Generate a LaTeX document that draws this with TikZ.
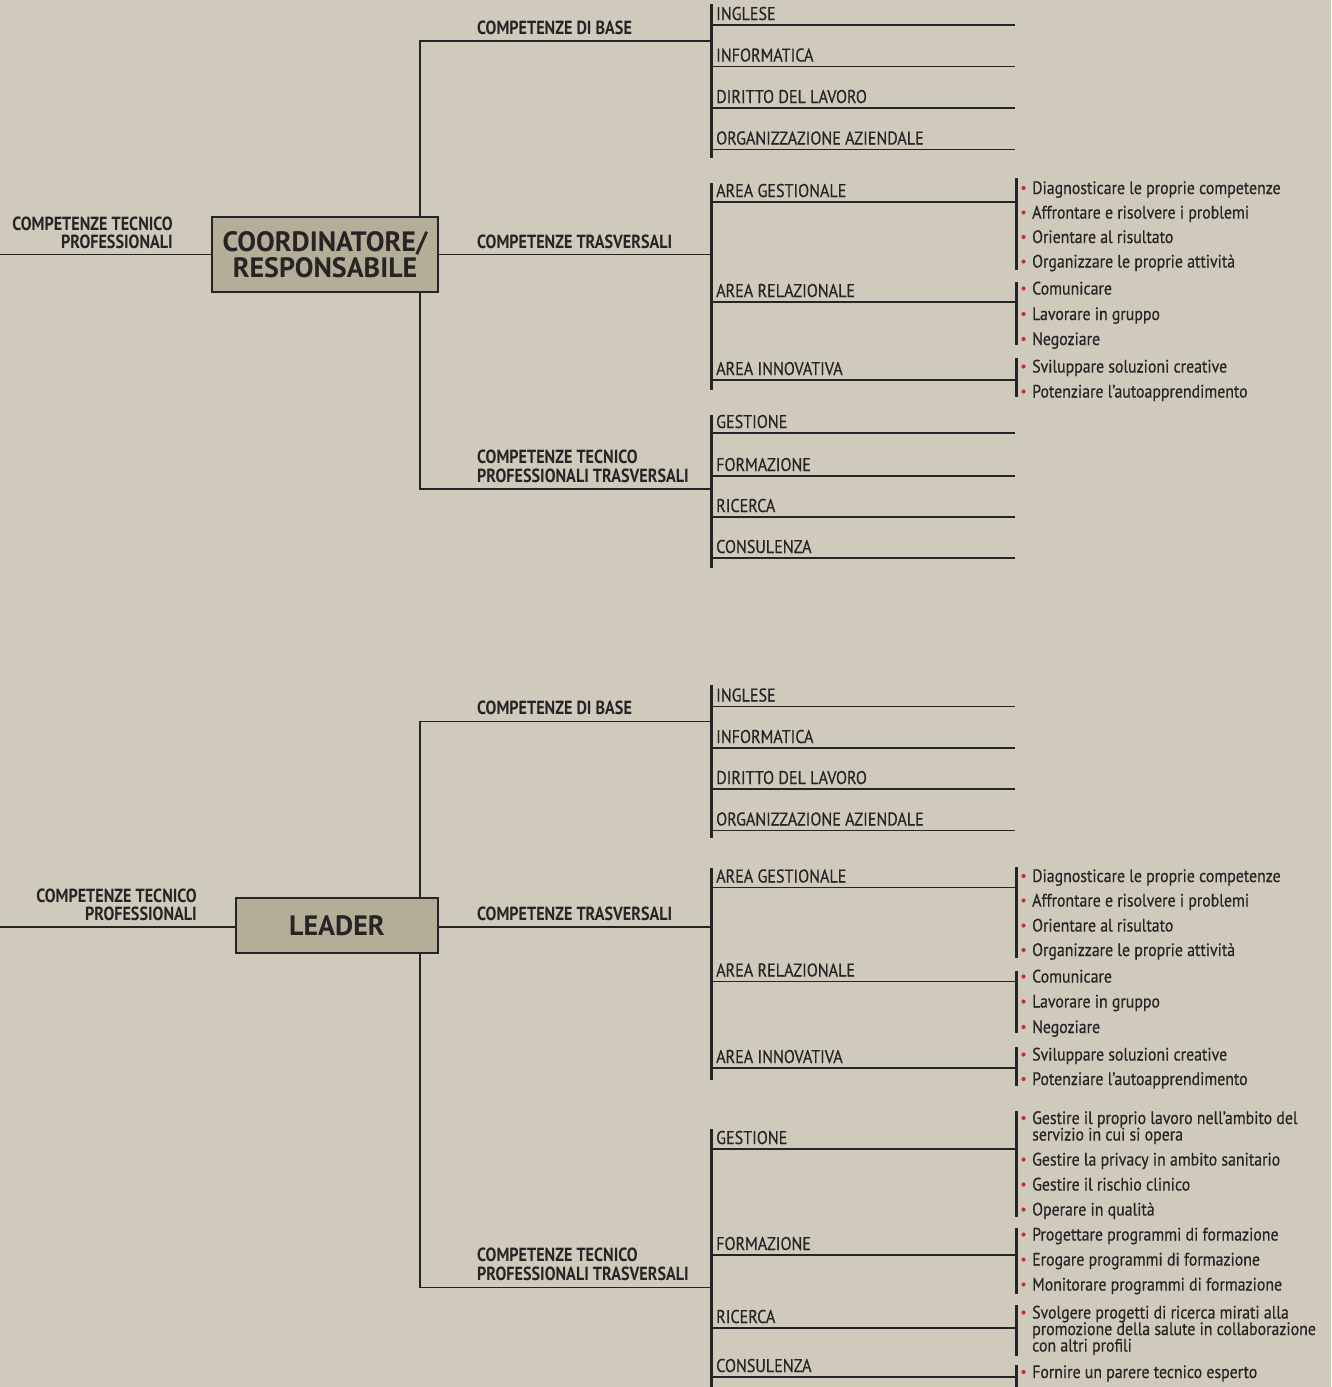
\documentclass[tikz,border=0pt]{standalone}
\usepackage{fontspec}
\setmainfont{PT Sans}[FakeStretch=0.85]
\newfontfamily\itemfont{PT Sans}[FakeStretch=0.87,FakeBold=0.4]
\newfontfamily\bulfont{PT Sans}[FakeStretch=0.88,FakeBold=0.4]
\newfontfamily\headfont{PT Sans}[FakeStretch=0.85]
\newfontfamily\rolefont{PT Sans}[FakeStretch=1.0]
\definecolor{paper}{HTML}{CFCABB}
\definecolor{boxfill}{HTML}{B4AD98}
\definecolor{ink}{HTML}{262424}
\definecolor{dotred}{HTML}{D12A33}
\tikzset{
  rule/.style={draw=ink, line width=1.7pt},
  bar/.style={draw=ink, line width=3pt},
  itemtxt/.style={anchor=base west, inner sep=0pt, text=ink, font=\itemfont\fontsize{18.5}{20}\selectfont},
  headtxt/.style={anchor=south west, inner sep=0pt, text=ink, align=left, font=\headfont\bfseries\fontsize{19}{19}\selectfont},
  sidetxt/.style={anchor=south east, inner sep=0pt, text=ink, align=right, font=\headfont\bfseries\fontsize{19}{18}\selectfont},
  rolebox/.style={draw=ink, fill=boxfill, line width=1.5pt, inner sep=0pt, align=center, text=ink, font=\rolefont\bfseries\fontsize{28}{26}\selectfont},
  bultxt/.style={anchor=base west, inner sep=0pt, text=ink, font=\bulfont\fontsize{18}{15}\selectfont},
  bulldot/.style={circle, fill=dotred, inner sep=0pt, minimum size=4.2pt},
}
% one competence row: line from the group bar plus its caption
\newcommand\comprow[3]{%
  \coordinate (#1-l) at (711.5,#2);
  \coordinate (#1-r) at (1015,#2);
  \draw[rule] (#1-l) -- (#1-r);
  \node[itemtxt] (#1) at (716,#2-5) {#3};}
% one bullet entry (red dot + text), and a continuation line
\newcommand\bulrow[3]{%
  \node[bulldot] (#1-d) at (1023.5,#2-6) {};
  \node[bultxt] (#1) at (1032,#2) {#3};}
\newcommand\bulcont[3]{\node[bultxt] (#1) at (1032,#2) {#3};}
% vertical bar grouping bullet entries
\newcommand\bulbar[3]{%
  \coordinate (#1-t) at (1016,#2);
  \coordinate (#1-b) at (1016,#3);
  \draw[bar] (#1-t) -- (#1-b);}
% vertical bar grouping competence rows
\newcommand\groupbar[3]{%
  \coordinate (#1-t) at (711.5,#2);
  \coordinate (#1-b) at (711.5,#3);
  \draw[bar] (#1-t) -- (#1-b);}

\begin{document}
\begin{tikzpicture}[x=1pt,y=-1pt]
\fill[paper] (0,0) rectangle (1331,1387);
\useasboundingbox (0,0) rectangle (1331,1387);

%================ COORDINATORE / RESPONSABILE ================
\coordinate (tspineA) at (420,41);
\coordinate (tspineC) at (420,489);
\coordinate (tjoinA) at (711.5,41);
\coordinate (tjoinC) at (711.5,489);
\coordinate (tstart) at (0,254.5);

\draw[rule] (420,230) -- (tspineA) -- (tjoinA);
\draw[rule] (420,280) -- (tspineC) -- (tjoinC);

\node[rolebox, minimum width=226pt, minimum height=75pt] (coord) at (325,254.5) {COORDINATORE/\\RESPONSABILE};
\node[sidetxt] (tside) at (173,248.5) {COMPETENZE TECNICO\\PROFESSIONALI};
\draw[rule] (tstart) -- (coord.west);

\groupbar{tA}{4}{158}
\groupbar{tB}{183}{390}
\groupbar{tC}{415}{568}
\draw[rule] (coord.east) -- (coord.east -| tB-t);

\node[headtxt] (tHA) at (477,35) {COMPETENZE DI BASE};
\node[headtxt] (tHB) at (477,249) {COMPETENZE TRASVERSALI};
\node[headtxt] (tHC) at (477,482.5) {COMPETENZE TECNICO\\PROFESSIONALI TRASVERSALI};

\comprow{tA1}{25}{INGLESE}
\comprow{tA2}{66.5}{INFORMATICA}
\comprow{tA3}{108}{DIRITTO DEL LAVORO}
\comprow{tA4}{149.5}{ORGANIZZAZIONE AZIENDALE}

\comprow{tB1}{202}{AREA GESTIONALE}
\comprow{tB2}{302}{AREA RELAZIONALE}
\comprow{tB3}{380}{AREA INNOVATIVA}

\comprow{tC1}{433}{GESTIONE}
\comprow{tC2}{476}{FORMAZIONE}
\comprow{tC3}{517}{RICERCA}
\comprow{tC4}{558}{CONSULENZA}

\bulbar{tg}{178}{270}
\bulrow{tg1}{194}{Diagnosticare le proprie competenze}
\bulrow{tg2}{218.5}{Affrontare e risolvere i problemi}
\bulrow{tg3}{243}{Orientare al risultato}
\bulrow{tg4}{267.5}{Organizzare le proprie attività}
\bulbar{tr}{282}{345}
\bulrow{tr1}{294.5}{Comunicare}
\bulrow{tr2}{320}{Lavorare in gruppo}
\bulrow{tr3}{345}{Negoziare}
\bulbar{ti}{358}{397}
\bulrow{ti1}{372.5}{Sviluppare soluzioni creative}
\bulrow{ti2}{397.5}{Potenziare l’autoapprendimento}

%================ LEADER ================
\coordinate (bspineA) at (420,721.5);
\coordinate (bspineC) at (420,1287.5);
\coordinate (bjoinA) at (711.5,721.5);
\coordinate (bjoinC) at (711.5,1287.5);
\coordinate (bstart) at (0,927);

\draw[rule] (420,910) -- (bspineA) -- (bjoinA);
\draw[rule] (420,940) -- (bspineC) -- (bjoinC);

\node[rolebox, minimum width=202pt, minimum height=55pt] (lead) at (337,925.5) {LEADER};
\node[sidetxt] (bside) at (197,921) {COMPETENZE TECNICO\\PROFESSIONALI};
\draw[rule] (bstart) -- (bstart -| lead.west);

\groupbar{bA}{685}{838}
\groupbar{bB}{868}{1080}
\groupbar{bC}{1129}{1387}
\draw[rule] (lead.east |- bstart) -- (bstart -| bB-t);

\node[headtxt] (bHA) at (477,715) {COMPETENZE DI BASE};
\node[headtxt] (bHB) at (477,921) {COMPETENZE TRASVERSALI};
\node[headtxt] (bHC) at (477,1281) {COMPETENZE TECNICO\\PROFESSIONALI TRASVERSALI};

\comprow{bA1}{706.5}{INGLESE}
\comprow{bA2}{748}{INFORMATICA}
\comprow{bA3}{789}{DIRITTO DEL LAVORO}
\comprow{bA4}{830.5}{ORGANIZZAZIONE AZIENDALE}

\comprow{bB1}{887.5}{AREA GESTIONALE}
\comprow{bB2}{981.5}{AREA RELAZIONALE}
\comprow{bB3}{1068}{AREA INNOVATIVA}

\comprow{bC1}{1149}{GESTIONE}
\comprow{bC2}{1255}{FORMAZIONE}
\comprow{bC3}{1328}{RICERCA}
\comprow{bC4}{1377}{CONSULENZA}

\bulbar{bg}{867}{958}
\bulrow{bg1}{882}{Diagnosticare le proprie competenze}
\bulrow{bg2}{906.5}{Affrontare e risolvere i problemi}
\bulrow{bg3}{931.5}{Orientare al risultato}
\bulrow{bg4}{956}{Organizzare le proprie attività}
\bulbar{br}{971}{1033}
\bulrow{br1}{982.5}{Comunicare}
\bulrow{br2}{1007.5}{Lavorare in gruppo}
\bulrow{br3}{1033}{Negoziare}
\bulbar{bi}{1047}{1086}
\bulrow{bi1}{1060.5}{Sviluppare soluzioni creative}
\bulrow{bi2}{1085}{Potenziare l’autoapprendimento}

\bulbar{bcg}{1111}{1217}
\bulrow{bcg1}{1124}{Gestire il proprio lavoro nell’ambito del}
\bulcont{bcg1b}{1140.5}{servizio in cui si opera}
\bulrow{bcg2}{1165.5}{Gestire la privacy in ambito sanitario}
\bulrow{bcg3}{1190.5}{Gestire il rischio clinico}
\bulrow{bcg4}{1215.5}{Operare in qualità}
\bulbar{bcf}{1228}{1294}
\bulrow{bcf1}{1240.5}{Progettare programmi di formazione}
\bulrow{bcf2}{1265.5}{Erogare programmi di formazione}
\bulrow{bcf3}{1290.5}{Monitorare programmi di formazione}
\bulbar{bcr}{1305}{1356}
\bulrow{bcr1}{1318.5}{Svolgere progetti di ricerca mirati alla}
\bulcont{bcr1b}{1335}{promozione della salute in collaborazione}
\bulcont{bcr1c}{1351.5}{con altri profili}
\bulbar{bcc}{1365}{1387}
\bulrow{bcc1}{1378}{Fornire un parere tecnico esperto}
\end{tikzpicture}
\end{document}
